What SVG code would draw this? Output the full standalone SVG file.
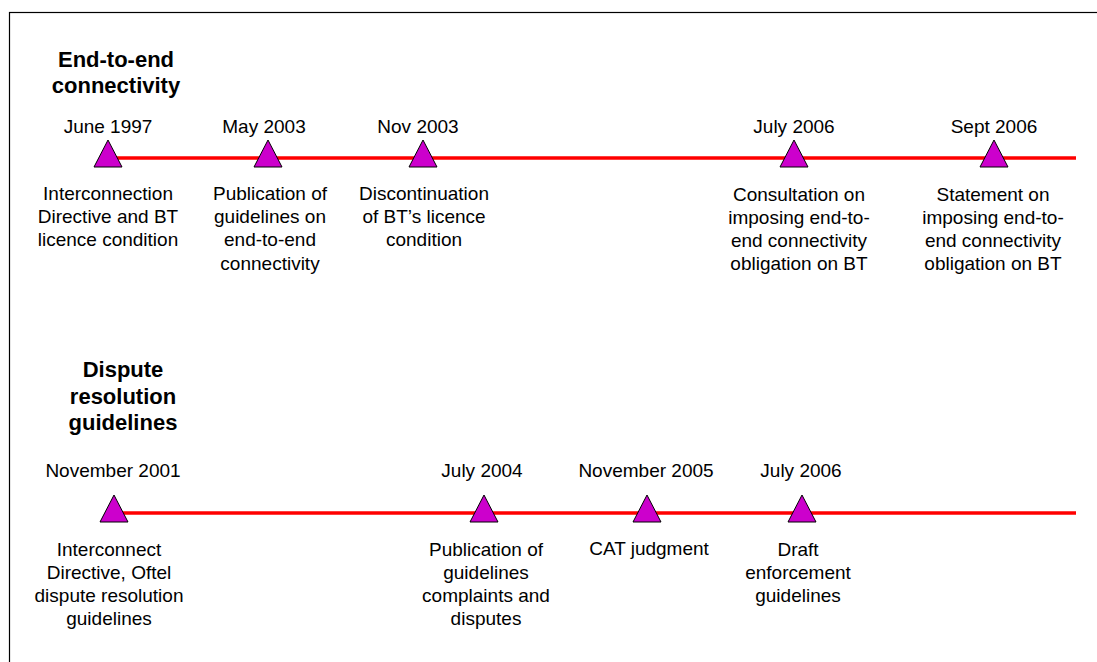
<svg xmlns="http://www.w3.org/2000/svg" width="1097" height="662" viewBox="0 0 1097 662">
<style>
.t{font-family:"Liberation Sans",Arial,sans-serif;font-size:19px;fill:#000;text-anchor:middle}
.h{font-family:"Liberation Sans",Arial,sans-serif;font-size:22px;font-weight:bold;fill:#000;text-anchor:middle}
.tri{fill:#CC00CC;stroke:#000;stroke-width:1}
.ln{stroke:#FF0000;stroke-width:3.5;fill:none}
</style>
<defs>
<polygon id="tri" class="tri" points="0,-18 14,9 -14,9"/>
</defs>
<rect x="9.5" y="12.5" width="1100" height="660" fill="#fff" stroke="#000" stroke-width="1.2"/>
<g id="connectors">
<line class="ln" x1="108" y1="158" x2="1076" y2="158"/>
<line class="ln" x1="114" y1="513" x2="1076" y2="513"/>
</g>
<g id="title1"><text class="h"><tspan x="116" y="67">End-to-end</tspan><tspan x="116" y="93">connectivity</tspan></text></g>
<g id="e1"><text class="t" x="108" y="133">June 1997</text><use href="#tri" x="108" y="158"/><text class="t"><tspan x="108" y="200">Interconnection</tspan><tspan x="108" y="223">Directive and BT</tspan><tspan x="108" y="246">licence condition</tspan></text></g>
<g id="e2"><text class="t" x="264" y="133">May 2003</text><use href="#tri" x="268" y="158"/><text class="t"><tspan x="270" y="200">Publication of</tspan><tspan x="270" y="223">guidelines on</tspan><tspan x="270" y="246">end-to-end</tspan><tspan x="270" y="270">connectivity</tspan></text></g>
<g id="e3"><text class="t" x="418" y="133">Nov 2003</text><use href="#tri" x="423" y="158"/><text class="t"><tspan x="424" y="200">Discontinuation</tspan><tspan x="424" y="223">of BT’s licence</tspan><tspan x="424" y="246">condition</tspan></text></g>
<g id="e4"><text class="t" x="794" y="133">July 2006</text><use href="#tri" x="794" y="158"/><text class="t"><tspan x="799" y="201">Consultation on</tspan><tspan x="799" y="224">imposing end-to-</tspan><tspan x="799" y="247">end connectivity</tspan><tspan x="799" y="270">obligation on BT</tspan></text></g>
<g id="e5"><text class="t" x="994" y="133">Sept 2006</text><use href="#tri" x="994" y="158"/><text class="t"><tspan x="993" y="201">Statement on</tspan><tspan x="993" y="224">imposing end-to-</tspan><tspan x="993" y="247">end connectivity</tspan><tspan x="993" y="270">obligation on BT</tspan></text></g>
<g id="title2"><text class="h"><tspan x="123" y="377">Dispute</tspan><tspan x="123" y="404">resolution</tspan><tspan x="123" y="430">guidelines</tspan></text></g>
<g id="f1"><text class="t" x="113" y="477">November 2001</text><use href="#tri" x="114" y="513"/><text class="t"><tspan x="109" y="556">Interconnect</tspan><tspan x="109" y="579">Directive, Oftel</tspan><tspan x="109" y="602">dispute resolution</tspan><tspan x="109" y="625">guidelines</tspan></text></g>
<g id="f2"><text class="t" x="482" y="477">July 2004</text><use href="#tri" x="484" y="513"/><text class="t"><tspan x="486" y="556">Publication of</tspan><tspan x="486" y="579">guidelines</tspan><tspan x="486" y="602">complaints and</tspan><tspan x="486" y="625">disputes</tspan></text></g>
<g id="f3"><text class="t" x="646" y="477">November 2005</text><use href="#tri" x="647" y="513"/><text class="t" x="649" y="555">CAT judgment</text></g>
<g id="f4"><text class="t" x="801" y="477">July 2006</text><use href="#tri" x="802" y="513"/><text class="t"><tspan x="798" y="556">Draft</tspan><tspan x="798" y="579">enforcement</tspan><tspan x="798" y="602">guidelines</tspan></text></g>
</svg>
